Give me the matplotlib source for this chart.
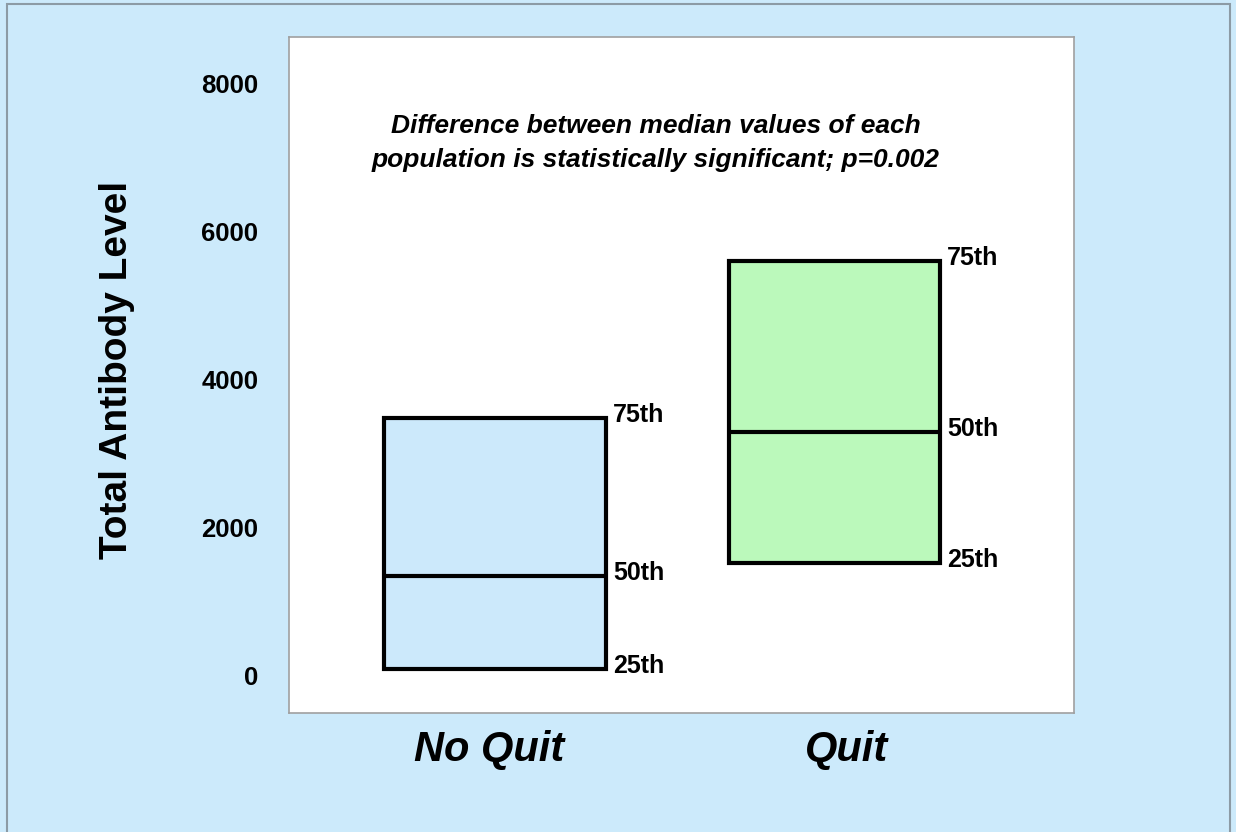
import matplotlib.pyplot as plt
from matplotlib.patches import Rectangle

plt.rcParams['font.family'] = ['Liberation Sans', 'DejaVu Sans']

groups = ["No Quit", "Quit"]
q25 = [100, 1530]
q50 = [1350, 3300]
q75 = [3490, 5610]
pct_labels = ["25th", "50th", "75th"]
y_ticks = [0, 2000, 4000, 6000, 8000]
note = "Difference between median values of each\npopulation is statistically significant; p=0.002"

bg = "#cceafb"
box_colors = ["#cce9fb", "#bbf9bb"]
box_widths = [0.654, 0.621]

fig = plt.figure(figsize=(12.36, 8.32), dpi=100, facecolor=bg)
# outer grey frame
fig.patches.append(Rectangle((7 / 1236, -0.01), (1230 - 7) / 1236, 1 - 4 / 832 + 0.01,
                             transform=fig.transFigure, fill=False,
                             edgecolor="#8c9ba5", linewidth=1.5))

ax = fig.add_axes([289 / 1236, 119 / 832, 785 / 1236, 676 / 832])
ax.set_facecolor("white")

xs = list(range(len(groups)))
for i in xs:
    ax.bar(i, q75[i] - q25[i], bottom=q25[i], width=box_widths[i],
           color=box_colors[i], edgecolor="black", linewidth=3, zorder=2)
    ax.hlines(q50[i], i - box_widths[i] / 2, i + box_widths[i] / 2,
              color="black", linewidth=3, zorder=3)
    for lab, val in zip(pct_labels, [q25[i], q50[i], q75[i]]):
        ax.annotate(lab, (i + box_widths[i] / 2, val), xytext=(5, 2),
                    textcoords="offset points", ha="left", va="center",
                    fontsize=18, fontweight="bold")

ax.set_xlim(-0.607, 1.705)
ax.set_ylim(-500, 8635)
ax.set_yticks(y_ticks)
ax.set_yticklabels([str(t) for t in y_ticks], fontsize=18.5, fontweight="bold")
ax.set_xticks([x + d for x, d in zip(xs, [-0.018, 0.034])])
ax.set_xticklabels(groups, fontsize=30, fontweight="bold", style="italic")
ax.tick_params(axis="y", length=0, pad=22)
ax.tick_params(axis="x", length=0, pad=12)
for s in ax.spines.values():
    s.set_color("#a0a0a0")
    s.set_linewidth(1.2)

fig.text(656 / 1236, 1 - 143 / 832, note, fontsize=19, fontweight="bold",
         style="italic", ha="center", va="center", linespacing=1.5)

fig.text(117 / 1236, 1 - 370 / 832, "Total Antibody Level", rotation=90,
         ha="center", va="center", fontsize=28, fontweight="bold")

fig.savefig("out.png", dpi=100, facecolor=bg)
